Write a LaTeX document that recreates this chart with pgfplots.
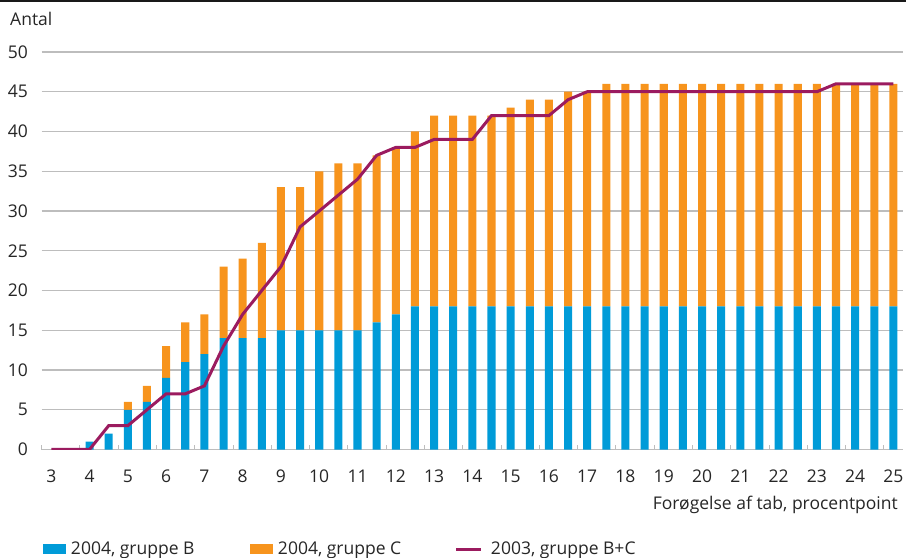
\documentclass[border=0pt]{standalone}
\usepackage{pgfplots}
\pgfplotsset{compat=1.18}
\usepackage{fontspec}
\setmainfont{Open Sans}
\definecolor{cB}{HTML}{009BD8}
\definecolor{cC}{HTML}{F7941D}
\definecolor{cL}{HTML}{9B1B5F}
\definecolor{cG}{HTML}{BDBDBD}
\begin{document}
\fontsize{17.5bp}{21bp}\selectfont
\begin{tikzpicture}
\useasboundingbox (-41.7bp,-108.5bp) rectangle (864.3bp,449.5bp);
\begin{axis}[
  width=861.3bp, height=397.5bp, scale only axis,
  xmin=2.75, xmax=25.25, ymin=0, ymax=50,
  ybar stacked, bar width=0.21,
  axis lines*=left,
  x axis line style={cG, line width=1.3bp},
  y axis line style={draw=none},
  xtick={3,4,...,25}, ytick={0,5,...,50},
  major tick length=0pt,
  tick style={cG, line width=1bp},
  tick align=inside,
  extra x ticks={2.75,3.75,4.75,5.75,6.75,7.75,8.75,9.75,10.75,11.75,12.75,13.75,14.75,15.75,16.75,17.75,18.75,19.75,20.75,21.75,22.75,23.75,24.75},
  extra x tick labels={},
  extra x tick style={major tick length=5bp, tick align=inside},
  ymajorgrids, major grid style={cG, line width=1.3bp},
  /pgf/number format/assume math mode=true,
  xticklabel style={anchor=base, inner sep=0pt, yshift=-32.8bp, text=black!85},
  yticklabel style={anchor=east, inner sep=0pt, xshift=-13.7bp, text=black!85},
  legend columns=3,
  legend style={at={(axis description cs:0,0)}, anchor=west, xshift=1.3bp, yshift=-99.5bp,
    draw=none, fill=none, inner sep=0pt, outer sep=0pt,
    nodes={inner sep=0pt, text=black!85},
    /tikz/every odd column/.append style={column sep=5bp},
    /tikz/every even column/.append style={column sep=0bp},
    cells={anchor=west}},
]
\addplot[fill=cB, draw=none, legend image code/.code={\fill[cB] (0bp,-5bp) rectangle (23bp,5bp);}] coordinates {
(3,0) (3.5,0) (4,1) (4.5,2) (5,5) (5.5,6) (6,9) (6.5,11) (7,12) (7.5,14) (8,14) (8.5,14) (9,15) (9.5,15) (10,15) (10.5,15) (11,15) (11.5,16) (12,17)
(12.5,18) (13,18) (13.5,18) (14,18) (14.5,18) (15,18) (15.5,18) (16,18) (16.5,18) (17,18) (17.5,18) (18,18) (18.5,18) (19,18) (19.5,18) (20,18) (20.5,18) (21,18) (21.5,18) (22,18) (22.5,18) (23,18) (23.5,18) (24,18) (24.5,18) (25,18)
};
\addlegendentry{\makebox[179bp][l]{2004, gruppe B}}
\addplot[fill=cC, draw=none, legend image code/.code={\fill[cC] (0bp,-5bp) rectangle (23bp,5bp);}] coordinates {
(3,0) (3.5,0) (4,0) (4.5,0) (5,1) (5.5,2) (6,4) (6.5,5) (7,5) (7.5,9) (8,10) (8.5,12) (9,18) (9.5,18) (10,20) (10.5,21) (11,21) (11.5,21) (12,21)
(12.5,22) (13,24) (13.5,24) (14,24) (14.5,24) (15,25) (15.5,26) (16,26) (16.5,27) (17,27) (17.5,28) (18,28) (18.5,28) (19,28) (19.5,28) (20,28) (20.5,28) (21,28) (21.5,28) (22,28) (22.5,28) (23,28) (23.5,28) (24,28) (24.5,28) (25,28)
};
\addlegendentry{\makebox[177bp][l]{2004, gruppe C}}
\addlegendimage{legend image code/.code={\draw[cL, line width=3bp] (0bp,0bp) -- (25bp,0bp);}}
\addlegendentry{\hspace{3bp}2003, gruppe B+C}
\end{axis}
\begin{axis}[
  width=861.3bp, height=397.5bp, scale only axis,
  xmin=2.75, xmax=25.25, ymin=0, ymax=50, hide axis]
\addplot[cL, line width=3bp, mark=none] coordinates {
(3,0) (3.5,0) (4,0) (4.5,3) (5,3) (5.5,5) (6,7) (6.5,7) (7,8) (7.5,13) (8,17) (8.5,20) (9,23) (9.5,28) (10,30) (10.5,32) (11,34) (11.5,37) (12,38)
(12.5,38) (13,39) (13.5,39) (14,39) (14.5,42) (15,42) (15.5,42) (16,42) (16.5,44) (17,45) (17.5,45) (18,45) (18.5,45) (19,45) (19.5,45) (20,45) (20.5,45) (21,45) (21.5,45) (22,45) (22.5,45) (23,45) (23.5,46) (24,46) (24.5,46) (25,46)
};
\end{axis}
\node[anchor=base west, inner sep=0pt, text=black!85] at (-31.7bp,423.5bp) {Antal};
\node[anchor=base east, inner sep=0pt, text=black!85] at (856.3bp,-59.8bp) {Forøgelse af tab, procentpoint};
\fill[black!90] (-41.7bp,447.5bp) rectangle (864.3bp,449.5bp);
\end{tikzpicture}
\end{document}
